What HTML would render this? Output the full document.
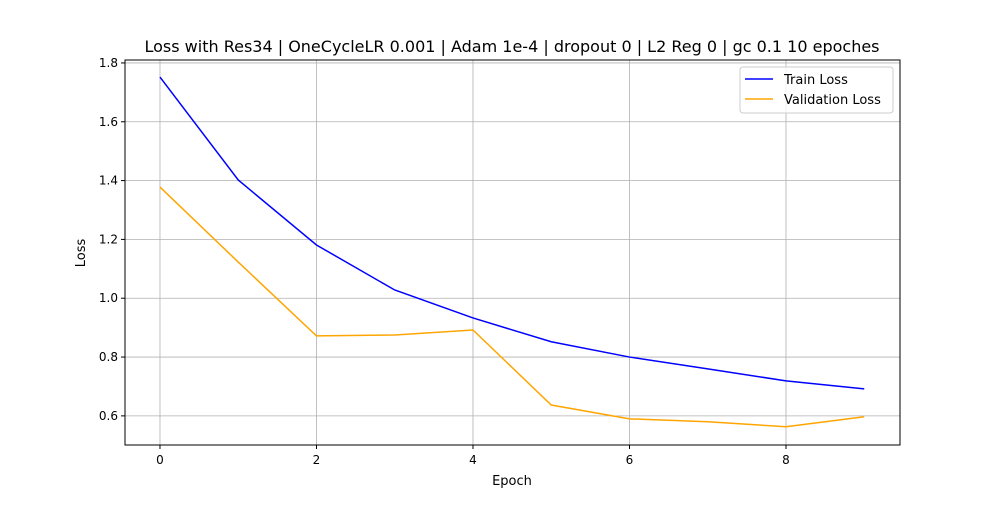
<!DOCTYPE html>
<html><head><meta charset="utf-8"><style>
body{margin:0;background:#fff;}
svg text{font-family:"DejaVu Sans","Liberation Sans",sans-serif;}
</style></head><body>
<svg id="chart" width="1000" height="500" xmlns="http://www.w3.org/2000/svg">
<rect width="1000" height="500" fill="#fff"/>
<text x="512" y="52" text-anchor="middle" font-size="16">Loss with Res34 | OneCycleLR 0.001 | Adam 1e-4 | dropout 0 | L2 Reg 0 | gc 0.1 10 epoches</text>
<g id="grid"></g>
<g id="marks"></g>
<rect x="125" y="60" width="775" height="385" fill="none" stroke="#000" stroke-width="1"/>
<g id="ticks"></g>
<text x="512" y="485" text-anchor="middle" font-size="13">Epoch</text>
<text x="85" y="253" text-anchor="middle" font-size="13" transform="rotate(-90 85 253)">Loss</text>
<g>
<rect x="740" y="67" width="153" height="46" rx="3" fill="#fff" fill-opacity="0.8" stroke="#ccc"/>
<g>
<line x1="745" y1="79" x2="773" y2="79" stroke="blue" stroke-width="1.5"/>
<text x="784" y="84" font-size="13">Train Loss</text></g>
<g>
<line x1="745" y1="99" x2="773" y2="99" stroke="orange" stroke-width="1.5"/>
<text x="784" y="104" font-size="13">Validation Loss</text></g>
</g>
</svg>
<script>
const epochs=[0,1,2,3,4,5,6,7,8,9];
const trainLoss=[1.752,1.402,1.181,1.028,0.933,0.852,0.800,0.760,0.719,0.692];
const valLoss=[1.378,1.123,0.872,0.875,0.892,0.637,0.590,0.580,0.563,0.597];
const xTicks=[0,2,4,6,8];
const yTicks=[0.6,0.8,1.0,1.2,1.4,1.6,1.8];
const X0=125,X1=900,Y0=445,Y1=60,xmin=-0.447,xmax=9.457,ymin=0.501,ymax=1.810;
const sx=v=>X0+(v-xmin)/(xmax-xmin)*(X1-X0);
const sy=v=>Y0-(v-ymin)/(ymax-ymin)*(Y0-Y1);
const NS="http://www.w3.org/2000/svg";
const g=document.getElementById('grid'),t=document.getElementById('ticks'),m=document.getElementById('marks');
function mk(p,tag,a){const e=document.createElementNS(NS,tag);for(const k in a)e.setAttribute(k,a[k]);p.appendChild(e);return e;}
xTicks.forEach(v=>{const x=sx(v);
 const l=mk(g,'line',{x1:x,x2:x,y1:Y1,y2:Y0,stroke:'#b0b0b0','stroke-width':0.8});
 
 
 mk(t,'line',{x1:x,x2:x,y1:Y0,y2:Y0+4,stroke:'#000'});
 const tx=mk(t,'text',{x:x,y:Y0+19,'text-anchor':'middle','font-size':12});tx.textContent=v;
 
 });
yTicks.forEach(v=>{const y=sy(v);
 const l=mk(g,'line',{x1:X0,x2:X1,y1:y,y2:y,stroke:'#b0b0b0','stroke-width':0.8});
 
 
 mk(t,'line',{x1:X0-4,x2:X0,y1:y,y2:y,stroke:'#000'});
 const tx=mk(t,'text',{x:X0-7,y:y+4,'text-anchor':'end','font-size':12});tx.textContent=v.toFixed(1);
 
 });
function line(vals,color,name){const p=mk(m,'polyline',{points:vals.map((v,i)=>sx(epochs[i])+','+sy(v)).join(' '),fill:'none',stroke:color,'stroke-width':1.5});
 
 }
line(trainLoss,'blue','train-loss-line');
line(valLoss,'orange','validation-loss-line');
</script>
</body></html>
